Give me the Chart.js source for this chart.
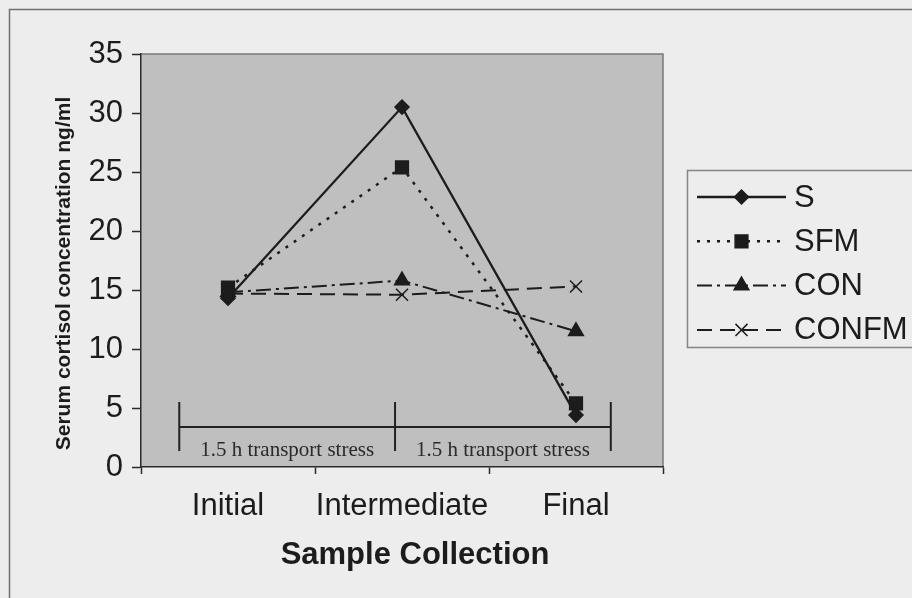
<!DOCTYPE html>
<html>
<head>
<meta charset="utf-8">
<title>Serum cortisol</title>
<script src="https://cdn.jsdelivr.net/npm/chart.js@4.4.1/dist/chart.umd.min.js"></script>
<style>
  html, body { margin: 0; background: #ededed; }
  canvas { display: block; }
</style>
</head>
<body>
<canvas id="cortisol" width="912" height="598"></canvas>
<script>
// Serum cortisol (ng/ml) per collection point
const CATEGORIES = ['Initial', 'Intermediate', 'Final'];
const S_VALUES     = [14.3, 30.5, 4.4];
const SFM_VALUES   = [15.2, 25.4, 5.4];
const CON_VALUES   = [14.8, 15.8, 11.5];
const CONFM_VALUES = [14.7, 14.6, 15.3];

const Y_MIN = 0, Y_MAX = 35, Y_STEP = 5;

// transport periods, in category units along x and cortisol units along y
const STRESS_EDGES = [-0.28, 0.96, 2.2];
const STRESS_LEVEL = 3.4;
const STRESS_SPAN  = [1.35, 5.5];
const STRESS_TEXT_AT = 0.93;
const STRESS_LABEL = '1.5 h transport stress';

const INK  = '#1c1c1c';
const SANS = 'Arial, "Liberation Sans", sans-serif';
const SERIF = '"Times New Roman", "Liberation Serif", serif';

const series = (label, data, dash, style, radius, width) => ({
  label, data,
  borderColor: INK, backgroundColor: INK,
  borderWidth: width, borderDash: dash,
  pointStyle: style, pointRadius: radius, pointHoverRadius: radius,
  pointBackgroundColor: INK, pointBorderColor: INK, pointBorderWidth: 1.5,
  tension: 0, fill: false,
});

const datasets = [
  series('S',     S_VALUES,     [],              'rectRot',  7,   2.3),
  series('SFM',   SFM_VALUES,   [3, 7],          'rect',     9,   2.5),
  series('CON',   CON_VALUES,   [15, 5, 3, 5],   'triangle', 8.5, 2),
  series('CONFM', CONFM_VALUES, [15, 8],         'crossRot', 8.5, 2),
];

const decor = {
  id: 'decor',
  beforeDraw(chart) {
    const { ctx, chartArea: a } = chart;
    ctx.save();
    ctx.fillStyle = '#ededed';
    ctx.fillRect(0, 0, chart.width, chart.height);
    ctx.fillStyle = '#bfbfbf';
    ctx.fillRect(a.left, a.top, a.right - a.left, a.bottom - a.top);
    // outer frame
    ctx.strokeStyle = '#707070';
    ctx.lineWidth = 1.5;
    ctx.strokeRect(9.5, 9.5, chart.width + 20, chart.height + 20);
    // plot border (top / right)
    ctx.strokeStyle = '#7a7a7a';
    ctx.beginPath();
    ctx.moveTo(a.left, a.top);
    ctx.lineTo(a.right, a.top);
    ctx.lineTo(a.right, a.bottom);
    ctx.stroke();
    ctx.restore();
  },
  beforeDatasetsDraw(chart) {
    const { ctx, scales: { x, y } } = chart;
    const xs = STRESS_EDGES.map(v => x.getPixelForValue(v));
    const yl = y.getPixelForValue(STRESS_LEVEL);
    ctx.save();
    ctx.strokeStyle = '#222';
    ctx.lineWidth = 2;
    ctx.beginPath();
    ctx.moveTo(xs[0], yl);
    ctx.lineTo(xs[xs.length - 1], yl);
    xs.forEach(px => {
      ctx.moveTo(px, y.getPixelForValue(STRESS_SPAN[1]));
      ctx.lineTo(px, y.getPixelForValue(STRESS_SPAN[0]));
    });
    ctx.stroke();
    ctx.fillStyle = '#2a2a2a';
    ctx.font = '21px ' + SERIF;
    ctx.textAlign = 'center';
    ctx.textBaseline = 'alphabetic';
    for (let i = 0; i < xs.length - 1; i++) {
      ctx.fillText(STRESS_LABEL, (xs[i] + xs[i + 1]) / 2, y.getPixelForValue(STRESS_TEXT_AT));
    }
    ctx.restore();
  },
  afterDraw(chart) {
    const { ctx, chartArea: a } = chart;
    ctx.save();
    ctx.fillStyle = INK;
    ctx.textAlign = 'center';
    ctx.textBaseline = 'middle';

    // axis titles
    ctx.font = 'bold 31px ' + SANS;
    ctx.fillText('Sample Collection', (a.left + a.right) / 2 + 13, 555);
    ctx.save();
    ctx.translate(64, (a.top + a.bottom) / 2 + 13);
    ctx.rotate(-Math.PI / 2);
    ctx.font = 'bold 21px ' + SANS;
    ctx.fillText('Serum cortisol concentration ng/ml', 0, 0);
    ctx.restore();

    // legend
    const bx = 687, by = 170, bh = 177;
    ctx.strokeStyle = '#858585';
    ctx.lineWidth = 1.5;
    ctx.strokeRect(bx + 0.5, by + 0.5, chart.width, bh);
    ctx.font = '31px ' + SANS;
    ctx.textAlign = 'left';
    chart.data.datasets.forEach((ds, i) => {
      const ry = 197 + i * 44.3;
      ctx.strokeStyle = ds.borderColor;
      ctx.lineWidth = ds.borderWidth;
      ctx.setLineDash(ds.borderDash);
      ctx.beginPath();
      ctx.moveTo(697, ry);
      ctx.lineTo(786, ry);
      ctx.stroke();
      ctx.setLineDash([]);
      ctx.fillStyle = ds.pointBackgroundColor;
      ctx.strokeStyle = ds.pointBorderColor;
      ctx.lineWidth = ds.pointBorderWidth;
      Chart.helpers.drawPoint(ctx, {
        pointStyle: ds.pointStyle, rotation: 0,
        radius: ds.pointRadius, borderWidth: ds.pointBorderWidth,
      }, 741.5, ry);
      ctx.fillStyle = INK;
      ctx.fillText(ds.label, 794, ry + 1);
    });
    ctx.restore();
  },
};

new Chart(document.getElementById('cortisol'), {
  type: 'line',
  data: { labels: CATEGORIES, datasets },
  plugins: [decor],
  options: {
    responsive: false,
    animation: false,
    layout: { padding: { left: 0, top: 54, right: 249, bottom: 0 } },
    plugins: { legend: { display: false }, tooltip: { enabled: false } },
    scales: {
      x: {
        offset: true,
        afterFit: s => { s.height = 131; },
        border: { color: '#2a2a2a', width: 1.5 },
        grid: { offset: true, drawOnChartArea: false, tickLength: 7, tickColor: '#2a2a2a', tickWidth: 1.5 },
        ticks: {
          color: INK, padding: 14, autoSkip: false, maxRotation: 0, minRotation: 0,
          font: { family: SANS, size: 31 },
        },
      },
      y: {
        min: Y_MIN, max: Y_MAX,
        afterFit: s => { s.width = 141; },
        border: { color: '#2a2a2a', width: 1.5 },
        grid: { drawOnChartArea: false, tickLength: 9, tickColor: '#2a2a2a', tickWidth: 1.5 },
        ticks: { stepSize: Y_STEP, color: INK, padding: 9, font: { family: SANS, size: 31 } },
      },
    },
  },
});
</script>
</body>
</html>
